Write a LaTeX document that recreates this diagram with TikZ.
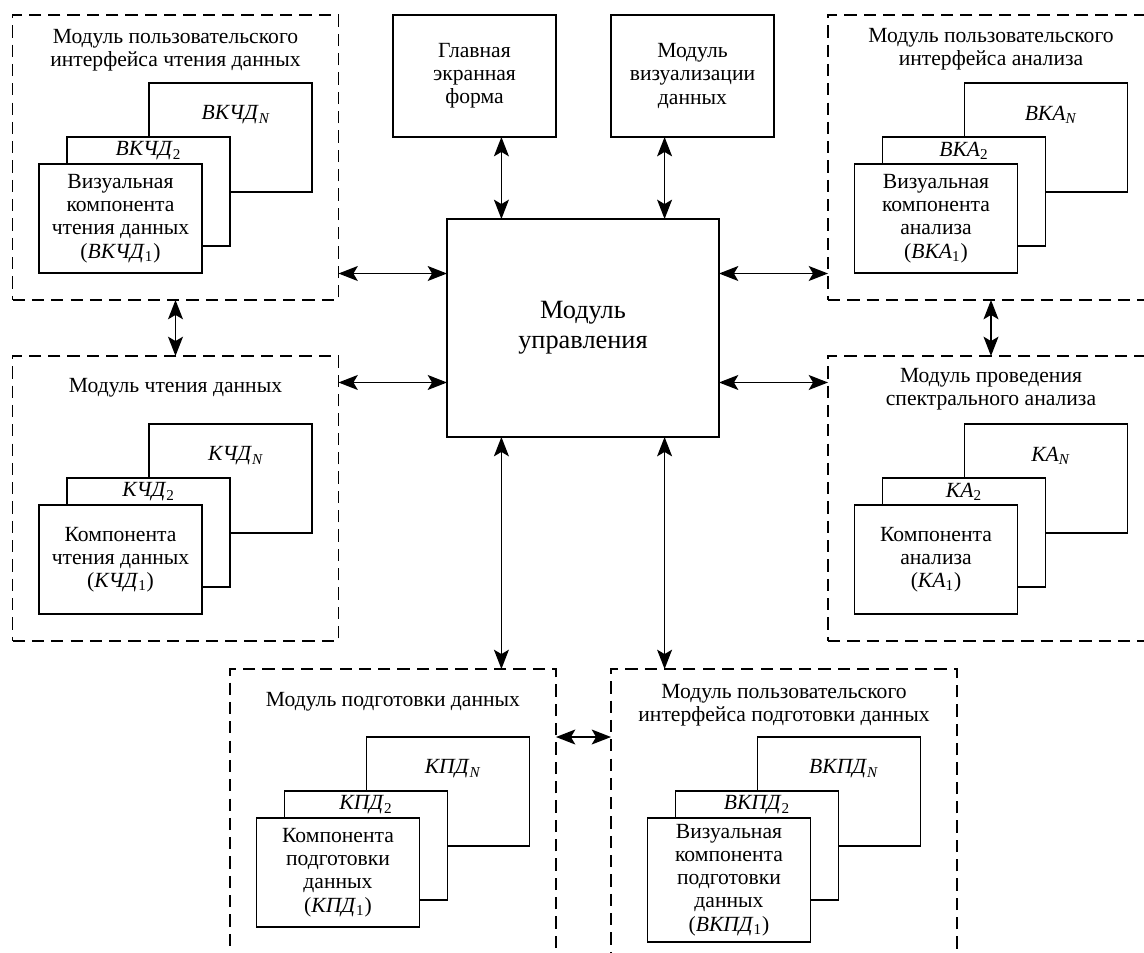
\documentclass[tikz,border=0pt]{standalone}
\usepackage{fontspec}
\setmainfont{Liberation Serif}
\usetikzlibrary{arrows.meta}

\begin{document}
\begin{tikzpicture}[x=0.02cm, y=-0.02cm, >={Stealth[length=11pt,width=8.5pt,inset=2.5pt]},
	font=\fontsize{12.3}{13.2}\selectfont,
	module/.style={draw, line width=1pt, dash pattern=on 7pt off 4pt, inner sep=0pt, outer sep=0pt, minimum width=6.52cm, minimum height=5.7cm},
	comp/.style={draw, line width=1pt, fill=white, inner sep=0pt, outer sep=0pt, minimum width=3.26cm, minimum height=2.18cm, align=center},
	block/.style={draw, line width=1pt, inner sep=0pt, outer sep=0pt, align=center, minimum width=3.26cm, minimum height=2.44cm},
	ttl/.style={align=center, inner sep=0pt},
	link/.style={<->, line width=1pt}]
			\path[use as bounding box, clip] (0,0) rectangle (1144,953);
			
			\node[block] (mainform) at (474.5,76) {Главная\\экранная\\форма};
			\node[block] (vis) at (692.5,76) {Модуль\\визуализации\\данных};
			\node[block, minimum width=5.44cm, minimum height=4.36cm, font=\fontsize{15}{17}\selectfont] (ctrl) at (583,328) {Модуль\\управления};
			
			\node[module] (uiread) at (175.5,157.5) {};
			\node[ttl] (uireadT) at (175.5,50) {Модуль пользовательского\\интерфейса чтения данных};
			\node[comp] (uireadN) at (230.5,137.5) {};
			\node[ttl] (uireadNl) at (236,115) {\textit{ВКЧД}\textsubscript{\textit{N}}};
			\node[comp] (uiread2) at (148.5,191.5) {};
			\node[ttl] (uiread2l) at (148.5,151) {\textit{ВКЧД}\textsubscript{2}};
			\node[comp] (uiread1) at (120.5,218.5) {Визуальная\\компонента\\чтения данных\\(\textit{ВКЧД}\textsubscript{1})};
			
			\node[module] (read) at (175.5,498.5) {};
			\node[ttl] (readT) at (175.5,388) {Модуль чтения данных};
			\node[comp] (readN) at (230.5,478.5) {};
			\node[ttl] (readNl) at (236,456) {\textit{КЧД}\textsubscript{\textit{N}}};
			\node[comp] (read2) at (148.5,532.5) {};
			\node[ttl] (read2l) at (148.5,492) {\textit{КЧД}\textsubscript{2}};
			\node[comp] (read1) at (120.5,559.5) {Компонента\\чтения данных\\(\textit{КЧД}\textsubscript{1})};
			
			\node[module] (uiana) at (991,157.5) {};
			\node[ttl] (uianaT) at (991,49) {Модуль пользовательского\\интерфейса анализа};
			\node[comp] (uianaN) at (1046,137.5) {};
			\node[ttl] (uianaNl) at (1051,115) {\textit{ВКА}\textsubscript{\textit{N}}};
			\node[comp] (uiana2) at (964,191.5) {};
			\node[ttl] (uiana2l) at (964,151) {\textit{ВКА}\textsubscript{2}};
			\node[comp] (uiana1) at (936,218.5) {Визуальная\\компонента\\анализа\\(\textit{ВКА}\textsubscript{1})};
			
			\node[module] (ana) at (991,498.5) {};
			\node[ttl] (anaT) at (991,389) {Модуль проведения\\спектрального анализа};
			\node[comp] (anaN) at (1046,478.5) {};
			\node[ttl] (anaNl) at (1051,456) {\textit{КА}\textsubscript{\textit{N}}};
			\node[comp] (ana2) at (964,532.5) {};
			\node[ttl] (ana2l) at (964,492) {\textit{КА}\textsubscript{2}};
			\node[comp] (ana1) at (936,559.5) {Компонента\\анализа\\(\textit{КА}\textsubscript{1})};
			
			\node[module, minimum height=6.02cm] (prep) at (393,819.5) {};
			\node[ttl] (prepT) at (393,702) {Модуль подготовки данных};
			\node[comp] (prepN) at (448,791.5) {};
			\node[ttl] (prepNl) at (453,769) {\textit{КПД}\textsubscript{\textit{N}}};
			\node[comp] (prep2) at (366,845.5) {};
			\node[ttl] (prep2l) at (366,805) {\textit{КПД}\textsubscript{2}};
			\node[comp] (prep1) at (338,872.5) {Компонента\\подготовки\\данных\\(\textit{КПД}\textsubscript{1})};
			
			\node[module, minimum width=6.92cm, minimum height=6.02cm] (uiprep) at (784,819.5) {};
			\node[ttl] (uiprepT) at (784,705) {Модуль пользовательского\\интерфейса подготовки данных};
			\node[comp] (uiprepN) at (839,791.5) {};
			\node[ttl] (uiprepNl) at (844,769) {\textit{ВКПД}\textsubscript{\textit{N}}};
			\node[comp] (uiprep2) at (757,845.5) {};
			\node[ttl] (uiprep2l) at (757,805) {\textit{ВКПД}\textsubscript{2}};
			\node[comp, minimum height=2.48cm] (uiprep1) at (729,880) {Визуальная\\компонента\\подготовки\\данных\\(\textit{ВКПД}\textsubscript{1})};
			
			\path (ctrl.north west) -- (ctrl.north east) coordinate[pos=.2] (ctrlN1) coordinate[pos=.8] (ctrlN2);
			\path (ctrl.south west) -- (ctrl.south east) coordinate[pos=.2] (ctrlS1) coordinate[pos=.8] (ctrlS2);
			\path (ctrl.north west) -- (ctrl.south west) coordinate[pos=.25] (ctrlW1) coordinate[pos=.75] (ctrlW2);
			\path (ctrl.north east) -- (ctrl.south east) coordinate[pos=.25] (ctrlE1) coordinate[pos=.75] (ctrlE2);
			
			\draw[link] (mainform.south -| ctrlN1) -- (ctrlN1);
			\draw[link] (vis.south -| ctrlN2) -- (ctrlN2);
			\draw[link] (uiread.east |- ctrlW1) -- (ctrlW1);
			\draw[link] (read.east |- ctrlW2) -- (ctrlW2);
			\draw[link] (ctrlE1) -- (uiana.west |- ctrlE1);
			\draw[link] (ctrlE2) -- (ana.west |- ctrlE2);
			\draw[link] (ctrlS1) -- (prep.north -| ctrlS1);
			\draw[link] (ctrlS2) -- (uiprep.north -| ctrlS2);
			
			\draw[link] (uiread) -- (read);
			\draw[link] (uiana) -- (ana);
			\draw[link] (prep.east |- prepN.north) -- (uiprep.west |- prepN.north);
\end{tikzpicture}
\end{document}
